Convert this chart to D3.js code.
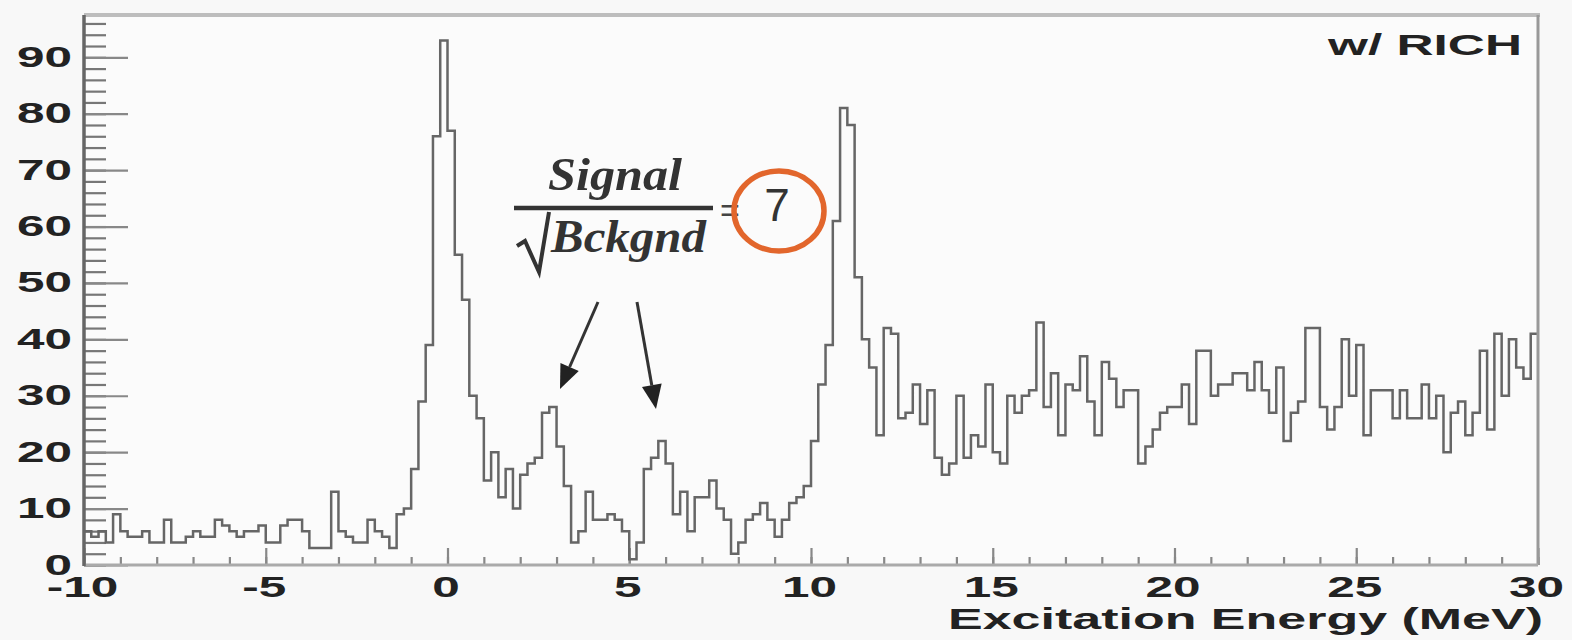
<!DOCTYPE html>
<html><head><meta charset="utf-8">
<script src="https://cdn.jsdelivr.net/npm/d3@7"></script>
<style>html,body{margin:0;padding:0;background:#f8f8f8;} svg{display:block;}</style>
</head><body><svg id="c" width="1572" height="640"></svg>
<script>
// ---- data ----
const xDomain = [-10, 30];
const yDomain = [0, 97.5];
const binWidth = 0.2;
const counts = [
  6,5,6,4,9,6,5,5,6,4,
  4,8,4,4,5,6,5,5,8,7,
  6,5,6,6,7,4,4,7,8,8,
  6,3,3,3,13,6,5,4,4,8,
  6,5,3,9,10,17,29,39,76,93,
  77,55,47,30,26,15,20,12,17,10,
  16,18,19,27,28,21,14,4,6,13,
  8,8,9,8,6,1,4,17,19,22,
  18,9,13,6,12,12,15,10,8,2,
  4,8,9,11,8,5,8,11,12,14,
  22,32,39,61,81,78,51,40,35,23,
  42,41,26,27,32,25,31,19,16,18,
  30,19,23,21,32,20,18,30,27,30,
  31,43,28,34,23,32,31,37,29,23,
  36,33,28,31,31,18,21,24,27,28,
  28,32,25,38,38,30,32,32,34,34,
  31,36,31,27,35,22,27,29,42,42,
  28,24,28,40,30,39,23,31,31,31,
  26,31,26,26,32,26,30,20,27,29,
  23,27,38,24,41,30,40,35,33,41
];
const xMajorTicks = [-10,-5,0,5,10,15,20,25,30];
const xMinorTicks = d3.range(-10, 31, 1);
const yMajorTicks = [0,10,20,30,40,50,60,70,80,90];
const yMinorTicks = d3.range(0, 97, 2);
const xTitle = "Excitation Energy (MeV)";
const tagText = "w/ RICH";

// ---- layout ----
const L = 84, R = 1538, T = 15, B = 565;
const svg = d3.select("#c");
const x = d3.scaleLinear().domain(xDomain).range([L, R]);
const y = d3.scaleLinear().domain(yDomain).range([B, T]);
const labelFont = "'Liberation Sans', Arial, sans-serif";
const fmt = d => String(d);

svg.append("rect").attr("x",0).attr("y",0).attr("width",1572).attr("height",640).attr("fill","#f8f8f8");
svg.append("rect").attr("x",L).attr("y",T).attr("width",R-L).attr("height",B-T).attr("fill","#fbfbfb");

// minor ticks
svg.append("g").attr("transform",`translate(${L},0)`)
  .call(d3.axisLeft(y).tickValues(yMinorTicks).tickSizeInner(-22).tickSizeOuter(0).tickFormat(""))
  .call(g=>{g.select(".domain").remove(); g.selectAll("line").attr("stroke","#777").attr("stroke-width",2.2);});
svg.append("g").attr("transform",`translate(0,${B})`)
  .call(d3.axisBottom(x).tickValues(xMinorTicks).tickSizeInner(-8).tickSizeOuter(0).tickFormat(""))
  .call(g=>{g.select(".domain").remove(); g.selectAll("line").attr("stroke","#888").attr("stroke-width",2.2);});

// major ticks + labels
svg.append("g").attr("transform",`translate(${L},0)`)
  .call(d3.axisLeft(y).tickValues(yMajorTicks).tickSizeInner(-44).tickSizeOuter(0).tickFormat(fmt))
  .call(g=>{
    g.select(".domain").remove();
    g.selectAll("line").attr("stroke","#888").attr("stroke-width",2.2);
    g.selectAll("text").attr("x",0).attr("dy",null)
      .attr("transform","translate(-12,9) scale(1.65,1)")
      .attr("text-anchor","end").attr("fill","#222")
      .style("font-family",labelFont).style("font-size","30px").style("font-weight","bold");
  });
svg.append("g").attr("transform",`translate(0,${B})`)
  .call(d3.axisBottom(x).tickValues(xMajorTicks).tickSizeInner(-17).tickSizeOuter(0).tickFormat(fmt))
  .call(g=>{
    g.select(".domain").remove();
    g.selectAll("line").attr("stroke","#888").attr("stroke-width",2.2);
    g.selectAll("text").attr("y",0).attr("dy",null)
      .attr("transform","translate(-2,32) scale(1.65,1)")
      .attr("text-anchor","middle").attr("fill","#222")
      .style("font-family",labelFont).style("font-size","30px").style("font-weight","bold");
  });

// histogram
const pts = counts.map((c,i)=>[xDomain[0]+i*binWidth, c]);
pts.push([xDomain[0]+counts.length*binWidth, counts[counts.length-1]]);
const line = d3.line().x(d=>x(d[0])).y(d=>y(d[1])).curve(d3.curveStepAfter);
svg.append("path").attr("d",line(pts)).attr("fill","none")
  .attr("stroke","#666").attr("stroke-width",2.5).attr("stroke-linejoin","miter");

// frame
svg.append("line").attr("x1",L).attr("x2",R+2).attr("y1",T).attr("y2",T).attr("stroke","#bdbdbd").attr("stroke-width",4);
svg.append("line").attr("x1",R).attr("x2",R).attr("y1",T).attr("y2",B).attr("stroke","#999").attr("stroke-width",3);
svg.append("line").attr("x1",L).attr("x2",R).attr("y1",B).attr("y2",B).attr("stroke","#aaa").attr("stroke-width",3);
svg.append("line").attr("x1",L).attr("x2",L).attr("y1",T).attr("y2",B+1).attr("stroke","#666").attr("stroke-width",3.5);

// titles
svg.append("text").attr("x",948).attr("y",629).text(xTitle)
  .attr("textLength",595).attr("lengthAdjust","spacingAndGlyphs").attr("fill","#222")
  .style("font-family",labelFont).style("font-size","30px").style("font-weight","bold");
svg.append("text").attr("x",1328).attr("y",55).text(tagText)
  .attr("textLength",194).attr("lengthAdjust","spacingAndGlyphs").attr("fill","#222")
  .style("font-family",labelFont).style("font-size","30px").style("font-weight","bold");

// annotation
const serif = "'Liberation Serif','DejaVu Serif',serif";
svg.append("text").attr("x",548).attr("y",190).text("Signal")
  .attr("textLength",134).attr("lengthAdjust","spacingAndGlyphs").attr("fill","#333")
  .style("font-family",serif).style("font-size","46px").style("font-style","italic").style("font-weight","bold");
svg.append("line").attr("x1",514).attr("x2",713).attr("y1",208).attr("y2",208).attr("stroke","#333").attr("stroke-width",4.5);
svg.append("path").attr("d","M517,246 L525,241 L539,272 L549,212").attr("fill","none").attr("stroke","#333").attr("stroke-width",4).attr("stroke-linejoin","miter");
svg.append("text").attr("x",551).attr("y",252).text("Bckgnd")
  .attr("textLength",155).attr("lengthAdjust","spacingAndGlyphs").attr("fill","#333")
  .style("font-family",serif).style("font-size","46px").style("font-style","italic").style("font-weight","bold");
svg.append("text").attr("x",720).attr("y",222).text("=").attr("fill","#444")
  .style("font-family",labelFont).style("font-size","34px");
svg.append("text").attr("x",777).attr("y",221).text("7").attr("text-anchor","middle").attr("fill","#333")
  .style("font-family",labelFont).style("font-size","46px");
svg.append("ellipse").attr("cx",779).attr("cy",211).attr("rx",45).attr("ry",40)
  .attr("fill","none").attr("stroke","#e2662c").attr("stroke-width",5.5);

function arrow(x1,y1,x2,y2){
  const a = Math.atan2(y2-y1,x2-x1), hl = 24, hw = 10;
  const bx = x2 - hl*Math.cos(a), by = y2 - hl*Math.sin(a);
  svg.append("line").attr("x1",x1).attr("y1",y1).attr("x2",bx).attr("y2",by).attr("stroke","#333").attr("stroke-width",3);
  const p = [[x2,y2],[bx+hw*Math.sin(a),by-hw*Math.cos(a)],[bx-hw*Math.sin(a),by+hw*Math.cos(a)]];
  svg.append("path").attr("d","M"+p.map(q=>q.join(",")).join("L")+"Z").attr("fill","#222");
}
arrow(598,302,560,389);
arrow(637,302,656,409);
</script>
</body></html>
